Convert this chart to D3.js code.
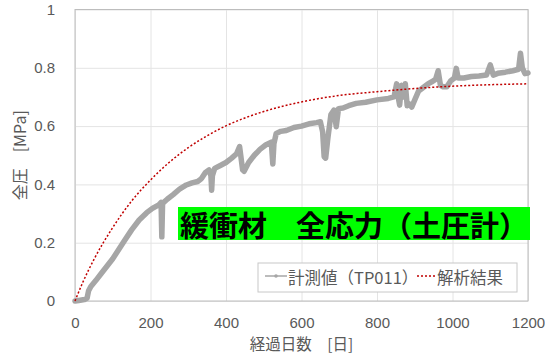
<!DOCTYPE html>
<html>
<head>
<meta charset="utf-8">
<script src="https://cdn.jsdelivr.net/npm/d3@7"></script>
<style>
  html, body { margin: 0; padding: 0; background: #fff; }
  svg { display: block; font-family: "Noto Sans CJK JP", "Noto Sans", sans-serif; }
</style>
</head>
<body>
<svg id="chart" width="545" height="354"></svg>
<script>
// Measured total stress (earth pressure cell TP011), days vs MPa
const measuredDays = [0, 10, 25, 32, 36, 42, 55, 70, 85, 100, 115, 130, 150, 170, 190, 205, 222, 228, 230, 232,
  245, 260, 278, 295, 310, 325, 335, 345, 355, 360, 362, 364, 370, 385, 400, 415, 428, 436, 444, 448,
  460, 475, 490, 505, 520, 524, 527, 533, 545, 560, 580, 600, 620, 640, 650, 656, 660, 664, 670, 678,
  686, 692, 698, 710, 725, 745, 770, 800, 830, 845, 852, 856, 860, 865, 870, 875, 880, 886, 892, 900,
  910, 920, 935, 945, 955, 962, 968, 975, 985, 995, 1005, 1010, 1015, 1030, 1050, 1070, 1090, 1100, 1108, 1120,
  1140, 1160, 1175, 1180, 1185, 1192, 1200];
const measuredMPa = [0, 0.002, 0.005, 0.01, 0.035, 0.05, 0.07, 0.095, 0.12, 0.145, 0.175, 0.205, 0.244, 0.278, 0.303, 0.318, 0.33, 0.338, 0.22, 0.335,
  0.35, 0.365, 0.385, 0.398, 0.405, 0.41, 0.42, 0.44, 0.45, 0.43, 0.38, 0.43, 0.455, 0.465, 0.475, 0.49, 0.505, 0.53, 0.45, 0.445,
  0.475, 0.5, 0.52, 0.535, 0.545, 0.47, 0.54, 0.575, 0.582, 0.585, 0.595, 0.6, 0.608, 0.612, 0.615, 0.58, 0.495, 0.49, 0.56, 0.64,
  0.655, 0.598, 0.66, 0.662, 0.67, 0.678, 0.682, 0.69, 0.695, 0.7, 0.745, 0.7, 0.672, 0.74, 0.7, 0.745, 0.67, 0.675, 0.665, 0.69,
  0.72, 0.73, 0.745, 0.752, 0.76, 0.79, 0.74, 0.735, 0.735, 0.755, 0.765, 0.798, 0.765, 0.765, 0.77, 0.772, 0.775, 0.81, 0.775, 0.781,
  0.785, 0.79, 0.795, 0.85, 0.8, 0.78, 0.782];

// Analysis result
const analysisDays = [0, 20, 50, 100, 150, 200, 250, 300, 350, 400, 450, 500, 600, 700, 800, 900, 1000, 1100, 1200];
const analysisMPa = [0, 0.062, 0.142, 0.252, 0.343, 0.415, 0.476, 0.526, 0.567, 0.601, 0.628, 0.650, 0.683, 0.705, 0.718, 0.729, 0.737, 0.742, 0.745];

const xTicks = [0, 200, 400, 600, 800, 1000, 1200];
const yTicks = [0, 0.2, 0.4, 0.6, 0.8, 1];
const seriesNames = ["計測値（TP011）", "解析結果"];
const overlayLabel = "緩衝材　全応力（土圧計）";
const xTitle = "経過日数　[日]";
const yTitle = "全圧　[MPa]";

const svg = d3.select("#chart");
const plot = { left: 75, right: 528, top: 9.5, bottom: 301 };
const W = plot.right - plot.left, H = plot.bottom - plot.top;

const x = d3.scaleLinear().domain([0, 1200]).range([plot.left, plot.right]);
const y = d3.scaleLinear().domain([0, 1]).range([plot.bottom, plot.top]);

// gridlines and tick labels
const yAxis = d3.axisLeft(y).tickValues(yTicks).tickSizeInner(-W).tickSizeOuter(0).tickPadding(20)
  .tickFormat(d => d === 0 ? "0" : d === 1 ? "1" : d3.format(".1f")(d));
const gy = svg.append("g").attr("transform", `translate(${plot.left},0)`).call(yAxis);
gy.select(".domain").remove();
gy.selectAll("line").attr("stroke", "#e4e4e4");
gy.selectAll("text").attr("fill", "#595959").attr("font-size", 15);

const xAxis = d3.axisBottom(x).tickValues(xTicks).tickSizeInner(-H).tickSizeOuter(0).tickPadding(16)
  .tickFormat(d3.format("d"));
const gx = svg.append("g").attr("transform", `translate(0,${plot.bottom})`).call(xAxis);
gx.select(".domain").remove();
gx.selectAll("line").attr("stroke", "#e4e4e4");
gx.selectAll("text").attr("fill", "#595959").attr("font-size", 15);

// plot frame
svg.append("rect").attr("x", plot.left).attr("y", plot.top).attr("width", W).attr("height", H)
  .attr("fill", "none").attr("stroke", "#bdbdbd").attr("stroke-width", 1);

// axis titles
svg.append("text").attr("x", (plot.left + plot.right) / 2).attr("y", 343)
  .attr("text-anchor", "middle").attr("dominant-baseline", "central")
  .attr("fill", "#595959").attr("font-size", 15.5).text(xTitle);
svg.append("text").attr("transform", `translate(19,${(plot.top + plot.bottom) / 2}) rotate(-90)`)
  .attr("text-anchor", "middle").attr("dominant-baseline", "central")
  .attr("fill", "#595959").attr("font-size", 16).text(yTitle);

// series
const measured = measuredDays.map((d, i) => [d, measuredMPa[i]]);
const analysis = analysisDays.map((d, i) => [d, analysisMPa[i]]);
const line = d3.line().x(d => x(d[0])).y(d => y(d[1]));
const curve = d3.line().x(d => x(d[0])).y(d => y(d[1])).curve(d3.curveMonotoneX);

svg.append("path").datum(measured).attr("d", line)
  .attr("fill", "none").attr("stroke", "#a6a6a6").attr("stroke-width", 5.5)
  .attr("stroke-linejoin", "round").attr("stroke-linecap", "round");
svg.append("path").datum(analysis).attr("d", curve)
  .attr("fill", "none").attr("stroke", "#c00000").attr("stroke-width", 1.5)
  .attr("stroke-dasharray", "2,2");

// highlighted label
const lab = svg.append("g");
lab.append("rect").attr("x", 178).attr("y", 207).attr("width", 352).attr("height", 33).attr("fill", "#00ff00");
lab.append("text").attr("x", 180).attr("y", 224).attr("dominant-baseline", "central")
  .attr("font-size", 29).attr("font-weight", "bold").attr("fill", "#000").text(overlayLabel);

// legend
const lg = svg.append("g");
lg.append("rect").attr("x", 258).attr("y", 263).attr("width", 259).attr("height", 29)
  .attr("fill", "#fff").attr("stroke", "#c8c8c8");
lg.append("line").attr("x1", 265).attr("x2", 287).attr("y1", 276).attr("y2", 276)
  .attr("stroke", "#a6a6a6").attr("stroke-width", 1.5);
lg.append("circle").attr("cx", 276).attr("cy", 276).attr("r", 1.8).attr("fill", "#a6a6a6");
lg.append("text").attr("x", 288).attr("y", 277).attr("dominant-baseline", "central")
  .attr("fill", "#595959").attr("font-size", 16.5).text(seriesNames[0]);
lg.append("line").attr("x1", 417).attr("x2", 436).attr("y1", 276).attr("y2", 276)
  .attr("stroke", "#c00000").attr("stroke-width", 1.5).attr("stroke-dasharray", "2,2");
lg.append("text").attr("x", 437).attr("y", 277).attr("dominant-baseline", "central")
  .attr("fill", "#595959").attr("font-size", 16.5).text(seriesNames[1]);
</script>
</body>
</html>
